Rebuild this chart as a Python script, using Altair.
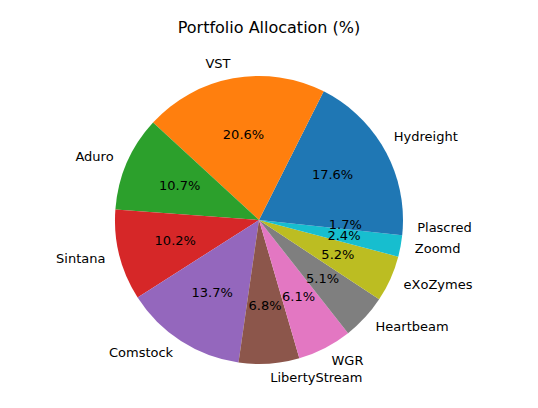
import math
import pandas as pd
import altair as alt

names = ['Hydreight', 'VST', 'Aduro', 'Sintana', 'Comstock', 'LibertyStream',
         'WGR', 'Heartbeam', 'eXoZymes', 'Zoomd', 'Plascred']
values = [17.6, 20.6, 10.7, 10.2, 13.7, 6.8, 6.1, 5.1, 5.2, 2.4, 1.7]
colors = ['#1f77b4', '#ff7f0e', '#2ca02c', '#d62728', '#9467bd', '#8c564b',
          '#e377c2', '#7f7f7f', '#bcbd22', '#17becf', '#1f77b4']

df = pd.DataFrame({'name': names, 'value': values, 'idx': range(len(names)), 'color': colors})

R = 144
cx, cy = 251, 172
FONT = 'DejaVu Sans'

# matplotlib goes counter-clockwise from 3 o'clock, vega clockwise from 12
theta_scale = alt.Scale(domain=[0, 1], range=[math.pi / 2, math.pi / 2 + 2 * math.pi])

base = alt.Chart(df).transform_joinaggregate(
    total='sum(value)'
).transform_window(
    cum='sum(value)', sort=[alt.SortField('idx', order='descending')], frame=[None, 0]
).transform_calculate(
    end='datum.cum / datum.total',
    start='(datum.cum - datum.value) / datum.total',
    mid='(datum.cum - datum.value / 2) / datum.total',
    pct="format(datum.value / datum.total * 100, '.1f') + '%'",
    side='cos(2 * PI * datum.mid)'
)

arcs = base.mark_arc(radius=R).encode(
    theta=alt.Theta('start:Q', scale=theta_scale),
    theta2='end:Q',
    color=alt.Color('color:N', scale=None),
    x=alt.value(cx), y=alt.value(cy)
)

pcts = base.mark_text(radius=R * 0.6, font=FONT, fontSize=13, color='black').encode(
    theta=alt.Theta('mid:Q', scale=theta_scale),
    text='pct:N',
    x=alt.value(cx), y=alt.value(cy)
)

right_lbl = base.transform_filter('datum.side > 0').mark_text(
    radius=R * 1.1, font=FONT, fontSize=13, color='black', align='left', baseline='middle'
).encode(
    theta=alt.Theta('mid:Q', scale=theta_scale),
    text='name:N',
    x=alt.value(cx), y=alt.value(cy)
)

left_lbl = base.transform_filter('datum.side <= 0').mark_text(
    radius=R * 1.1, font=FONT, fontSize=13, color='black', align='right', baseline='middle'
).encode(
    theta=alt.Theta('mid:Q', scale=theta_scale),
    text='name:N',
    x=alt.value(cx), y=alt.value(cy)
)

chart = alt.layer(arcs, pcts, right_lbl, left_lbl).properties(
    width=522, height=352,
    autosize=alt.AutoSizeParams(type='none'),
    padding={'left': 0, 'top': 40, 'right': 0, 'bottom': 0},
    title=alt.TitleParams('Portfolio Allocation (%)', font=FONT, fontSize=16,
                          fontWeight='normal', anchor='middle', offset=12, color='black')
).configure_view(stroke=None)

chart.save("out.html", embed_options={"renderer": "svg", "actions": False})
